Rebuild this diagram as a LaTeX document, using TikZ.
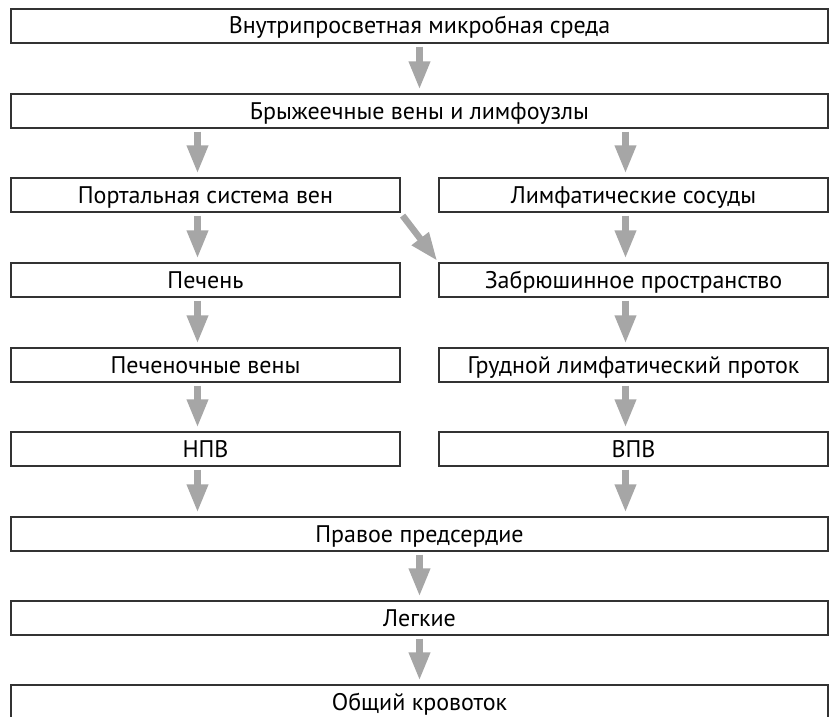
\documentclass[tikz,border=0pt]{standalone}
\usepackage{fontspec}
\setmainfont{PT Sans}
\usetikzlibrary{arrows.meta}

\tikzset{
  box/.style={draw=black!80,line width=1.2pt,inner sep=0pt,minimum height=34pt,
    text height=16pt,text depth=0pt,font=\fontsize{24}{28}\selectfont},
  wide/.style={box,minimum width=817pt},
  half/.style={box,minimum width=389pt},
  flow/.style={-{Triangle[width=20pt,length=28pt]},line width=6.5pt,draw=black!35,
    shorten <=3pt,shorten >=4pt}
}

\begin{document}
\begin{tikzpicture}[x=1pt,y=-1pt]
  \useasboundingbox (0,0) rectangle (830,717);
  % general chain (top)
  \node[wide] (lumen) at (419.5,26){Внутрипросветная микробная среда};
  \node[wide] (mes) at (419.5,111){Брыжеечные вены и лимфоузлы};
  % venous branch (left)
  \node[half] (portal) at (205.5,195){Портальная система вен};
  \node[half] (liver) at (205.5,280){Печень};
  \node[half] (hepv) at (205.5,365){Печеночные вены};
  \node[half] (ivc) at (205.5,449){НПВ};
  % lymphatic branch (right)
  \node[half] (lymph) at (633.5,195){Лимфатические сосуды};
  \node[half] (retro) at (633.5,280){Забрюшинное пространство};
  \node[half] (duct) at (633.5,365){Грудной лимфатический проток};
  \node[half] (svc) at (633.5,449){ВПВ};
  % general chain (bottom)
  \node[wide] (atrium) at (419.5,534){Правое предсердие};
  \node[wide] (lungs) at (419.5,618){Легкие};
  \node[wide] (blood) at (419.5,702){Общий кровоток};
  % arrows
  \draw[flow] (lumen) -- (mes);
  \draw[flow] ([xshift=-8pt]mes.south -| portal) -- ([xshift=-8pt]portal.north);
  \draw[flow] ([xshift=-8pt]mes.south -| lymph) -- ([xshift=-8pt]lymph.north);
  \draw[flow] ([xshift=-8pt]portal.south) -- ([xshift=-8pt]liver.north);
  \draw[flow] ([xshift=-8pt]liver.south) -- ([xshift=-8pt]hepv.north);
  \draw[flow] ([xshift=-8pt]hepv.south) -- ([xshift=-8pt]ivc.north);
  \draw[flow] ([xshift=-8pt]lymph.south) -- ([xshift=-8pt]retro.north);
  \draw[flow] ([xshift=-8pt]retro.south) -- ([xshift=-8pt]duct.north);
  \draw[flow] ([xshift=-8pt]duct.south) -- ([xshift=-8pt]svc.north);
  \draw[flow] ([xshift=-8pt]ivc.south) -- ([xshift=-8pt]atrium.north -| ivc);
  \draw[flow] ([xshift=-8pt]svc.south) -- ([xshift=-8pt]atrium.north -| svc);
  \draw[flow,shorten <=0pt,shorten >=2pt] ([shift={(2pt,-3pt)}]portal.south east) -- (retro.north west);
  \draw[flow] (atrium) -- (lungs);
  \draw[flow] (lungs) -- (blood);
\end{tikzpicture}
\end{document}
